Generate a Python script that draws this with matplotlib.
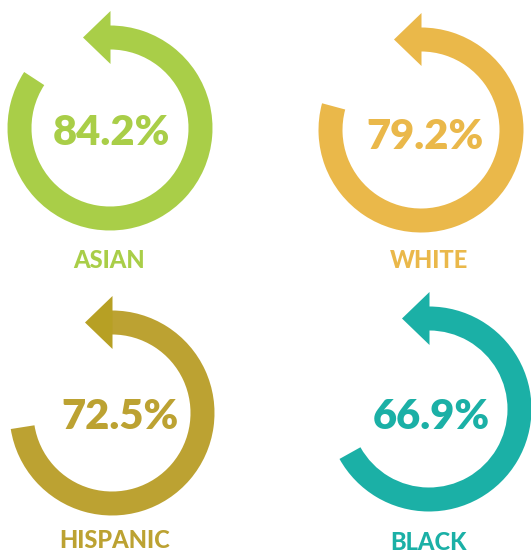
import matplotlib
matplotlib.use("Agg")
import matplotlib.pyplot as plt
from matplotlib.patches import Wedge, Polygon

# data
groups = ["ASIAN", "WHITE", "HISPANIC", "BLACK"]
rates = [84.2, 79.2, 72.5, 66.9]
colors = ["#a9ce48", "#eab84a", "#bca232", "#1bb0a6"]
head_colors = ["#a9ce48", "#eab84a", "#b7a024", "#1bb0a6"]

# layout (pixel coords, y down)
W, H = 531, 554
centers = [(110, 128), (421, 130), (112, 413), (429, 409)]
text_pos = [(111, 133), (425, 137), (120, 417), (431, 417)]
label_pos = [(109, 261), (429, 261), (115, 541), (429, 543)]
r_out, ring = 102.5, 24
r_mid = r_out - ring / 2
head_half, head_len = 26.5, 27

fig = plt.figure(figsize=(W / 100, H / 100), dpi=100)
ax = fig.add_axes([0, 0, 1, 1])
ax.set_xlim(0, W)
ax.set_ylim(0, H)
ax.axis("off")

for g, v, c, hc, (cx, cy), (tx, ty), (lx, ly) in zip(
        groups, rates, colors, head_colors, centers, text_pos, label_pos):
    y = H - cy
    # arc runs clockwise from 12 o'clock
    ax.add_patch(Wedge((cx, y), r_out, 90 - 360 * v / 100, 90,
                       width=ring, facecolor=c, edgecolor="none"))
    top = y + r_mid
    ax.add_patch(Polygon([(cx + 0.5, top + head_half), (cx + 0.5, top - head_half),
                          (cx - head_len, top)], closed=True,
                         facecolor=hc, edgecolor="none"))
    ax.text(tx, H - ty, f"{v:.1f}%", ha="center", va="center", color=c,
            fontsize=30, fontweight="heavy", family="Lato")
    ax.text(lx, H - ly, g, ha="center", va="center", color=c,
            fontsize=17, fontweight="black", family="Lato")

fig.savefig("out.png", dpi=100)
